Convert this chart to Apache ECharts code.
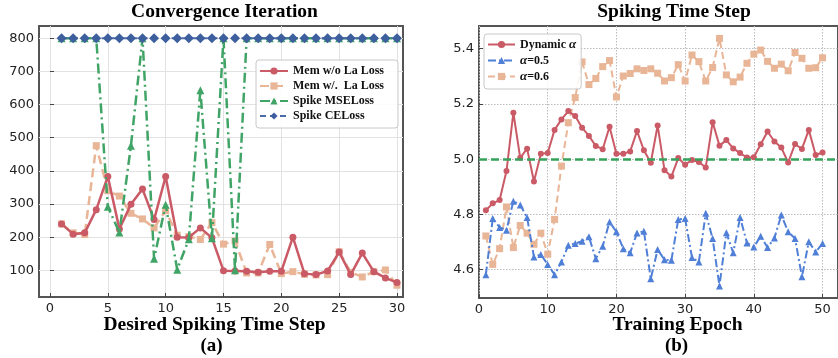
<!DOCTYPE html>
<html><head><meta charset="utf-8">
<script src="https://cdn.jsdelivr.net/npm/echarts@6/dist/echarts.min.js"></script>
<style>html,body{margin:0;padding:0;background:#fff}#c{width:838px;height:358px}</style>
</head><body><div id="c"></div>
<script>
// ---------- Panel (a): Convergence Iteration ----------
const stepsA = [1,2,3,4,5,6,7,8,9,10,11,12,13,14,15,16,17,18,19,20,21,22,23,24,25,26,27,28,29,30];
const memNoLa = [240,209,213,283,383,225,299,345,253,383,200,199,228,198,99,98,97,94,97,97,200,90,87,98,155,87,152,96,77,63];
const memLa   = [240,213,208,476,340,324,272,255,228,280,206,202,193,244,179,189,92,92,178,90,96,88,86,87,156,94,80,96,101,55];
const spikeMse = [800,800,800,800,292,214,476,800,135,298,102,194,643,197,800,100,800,800,800,800,800,800,800,800,800,800,800,800,800,800];
const spikeCe  = [800,800,800,800,800,800,800,800,800,800,800,800,800,800,800,800,800,800,800,800,800,800,800,800,800,800,800,800,800,800];
const xTicksA = [0,5,10,15,20,25,30];
const yTicksA = [100,200,300,400,500,600,700,800];

// ---------- Panel (b): Spiking Time Step ----------
const epochsB = [1,2,3,4,5,6,7,8,9,10,11,12,13,14,15,16,17,18,19,20,21,22,23,24,25,26,27,28,29,30,31,32,33,34,35,36,37,38,39,40,41,42,43,44,45,46,47,48,49,50];
const dynAlpha = [4.815,4.84,4.852,4.957,5.168,5.005,5.038,4.919,5.02,5.022,
                  5.106,5.144,5.174,5.156,5.114,5.084,5.048,5.036,5.117,5.02,
                  5.02,5.028,5.102,5.032,4.987,5.122,4.96,4.937,5.004,4.98,
                  4.997,4.99,4.97,5.134,5.049,5.069,5.039,5.022,5.006,5.007,
                  5.054,5.10,5.064,5.042,4.988,5.055,5.037,5.106,5.015,5.024];
const alpha05 = [4.582,4.785,4.753,4.743,4.848,4.834,4.789,4.646,4.655,4.619,
                 4.582,4.628,4.688,4.695,4.703,4.719,4.64,4.685,4.773,4.737,
                 4.676,4.661,4.733,4.739,4.567,4.673,4.636,4.634,4.782,4.785,
                 4.644,4.628,4.804,4.713,4.541,4.734,4.661,4.789,4.697,4.682,
                 4.721,4.68,4.715,4.798,4.737,4.713,4.574,4.701,4.664,4.695];
const alpha06 = [4.722,4.619,4.676,4.827,4.68,4.76,4.732,4.692,4.732,4.656,
                 4.782,4.975,5.132,5.223,5.352,5.27,5.292,5.335,5.357,5.225,
                 5.301,5.31,5.327,5.321,5.327,5.311,5.283,5.295,5.342,5.283,
                 5.377,5.353,5.283,5.332,5.437,5.305,5.28,5.297,5.347,5.38,
                 5.395,5.354,5.329,5.344,5.32,5.386,5.365,5.329,5.331,5.367];
const baselineB = 5.0;
const xTicksB = [0,10,20,30,40,50];
const yTicksB = [4.6,4.8,5.0,5.2,5.4];

const pairs = (xs, ys) => xs.map((x, i) => [x, ys[i]]);
const SERIF = '"Liberation Serif","Times New Roman",serif';
const SANS = '"DejaVu Sans",sans-serif';

function valueAxis(idx, min, max, ticks, fmt, dotted) {
  return {
    type: 'value', gridIndex: idx, min: min, max: max,
    axisLine: {show: false},
    axisTick: {show: true, inside: true, length: 4, customValues: ticks, lineStyle: {color: '#444', width: 1}},
    axisLabel: {customValues: ticks, formatter: fmt, fontFamily: SANS, fontSize: 13, color: '#222', margin: 5},
    splitLine: {show: true, lineStyle: dotted ? {color: '#bbb', width: 1, type: [1.5, 1.5]} : {color: '#e2e2e2', width: 1}}
  };
}

const chart = echarts.init(document.getElementById('c'), null, {renderer: 'canvas'});
const option = {
  animation: false,
  backgroundColor: '#fff',
  grid: [
    {left: 39, top: 26, width: 364, height: 271, show: true, borderColor: '#555', borderWidth: 2, backgroundColor: 'transparent'},
    {left: 479, top: 26, width: 364, height: 272, show: true, borderColor: '#555', borderWidth: 2, backgroundColor: 'transparent'}
  ],
  xAxis: [
    valueAxis(0, -0.95, 30.52, xTicksA, v => String(v), false),
    valueAxis(1, 0, 52.25, xTicksB, v => String(v), true)
  ],
  yAxis: [
    valueAxis(0, 19.5, 837, yTicksA, v => String(v), false),
    valueAxis(1, 4.4975, 5.482, yTicksB, v => v.toFixed(1), true)
  ],
  legend: [
    {
      data: ['Mem w/o La Loss', 'Mem w/.  La Loss', 'Spike MSELoss', 'Spike CELoss'],
      orient: 'vertical', left: 256, top: 60, itemWidth: 28, itemHeight: 9, itemGap: 3,
      padding: [5, 14, 6, 3], borderColor: '#c8c8c8', borderWidth: 1, borderRadius: 3,
      backgroundColor: 'rgba(255,255,255,0.85)',
      textStyle: {fontFamily: SERIF, fontWeight: 'bold', fontSize: 12, color: '#111'}
    },
    {
      data: ['Dynamic α', 'α=0.5', 'α=0.6'],
      orient: 'vertical', left: 484, top: 34, itemWidth: 27, itemHeight: 9, itemGap: 3,
      padding: [4, 5, 6, 3], borderColor: '#c8c8c8', borderWidth: 1, borderRadius: 3,
      backgroundColor: 'rgba(255,255,255,0.85)',
      formatter: n => n.replace('α', '{i|α}'),
      textStyle: {fontFamily: SERIF, fontWeight: 'bold', fontSize: 12, color: '#111',
        rich: {i: {fontFamily: SERIF, fontStyle: 'italic', fontWeight: 'bold', fontSize: 13, color: '#111'}}}
    }
  ],
  series: [
    {name: 'Mem w/o La Loss', type: 'line', xAxisIndex: 0, yAxisIndex: 0, data: pairs(stepsA, memNoLa),
      symbol: 'circle', symbolSize: 7, lineStyle: {color: '#c95a66', width: 2.5}, itemStyle: {color: '#c95a66'}, z: 3},
    {name: 'Mem w/.  La Loss', type: 'line', xAxisIndex: 0, yAxisIndex: 0, data: pairs(stepsA, memLa),
      symbol: 'rect', symbolSize: 7, lineStyle: {color: '#e9b597', width: 2.5, type: [9, 5]}, itemStyle: {color: '#e9b597'}, z: 2},
    {name: 'Spike MSELoss', type: 'line', xAxisIndex: 0, yAxisIndex: 0, data: pairs(stepsA, spikeMse),
      symbol: 'triangle', symbolSize: 8, lineStyle: {color: '#40a466', width: 2.5, type: [10, 4, 2, 4]}, itemStyle: {color: '#40a466'}, z: 4},
    {name: 'Spike CELoss', type: 'line', xAxisIndex: 0, yAxisIndex: 0, data: pairs(stepsA, spikeCe),
      symbol: 'diamond', symbolSize: 10, lineStyle: {color: '#4a6aa8', width: 2, type: [6, 4]}, itemStyle: {color: '#3d5f9e'}, z: 5},

    {name: 'Dynamic α', type: 'line', xAxisIndex: 1, yAxisIndex: 1, data: pairs(epochsB, dynAlpha),
      symbol: 'circle', symbolSize: 6, lineStyle: {color: '#c95a66', width: 2}, itemStyle: {color: '#c95a66'}, z: 4,
      markLine: {silent: true, symbol: 'none', label: {show: false},
        lineStyle: {color: '#36a35c', width: 2.5, type: [8, 4]}, data: [{yAxis: baselineB}]}},
    {name: 'α=0.5', type: 'line', xAxisIndex: 1, yAxisIndex: 1, data: pairs(epochsB, alpha05),
      symbol: 'triangle', symbolSize: 7, lineStyle: {color: '#4f7fd6', width: 2, type: [8, 3, 2, 3]}, itemStyle: {color: '#4f7fd6'}, z: 3},
    {name: 'α=0.6', type: 'line', xAxisIndex: 1, yAxisIndex: 1, data: pairs(epochsB, alpha06),
      symbol: 'rect', symbolSize: 7, lineStyle: {color: '#e9b597', width: 2, type: [7, 4]}, itemStyle: {color: '#e9b597'}, z: 2}
  ],
  graphic: [
    {type: 'text', x: 224.5, y: 12, style: {text: 'Convergence Iteration', font: 'bold 19.5px ' + SERIF, fill: '#000', align: 'center', verticalAlign: 'middle'}},
    {type: 'text', x: 674, y: 12, style: {text: 'Spiking Time Step', font: 'bold 19.5px ' + SERIF, fill: '#000', align: 'center', verticalAlign: 'middle'}},
    {type: 'text', x: 214.5, y: 325, style: {text: 'Desired Spiking Time Step', font: 'bold 19.5px ' + SERIF, fill: '#000', align: 'center', verticalAlign: 'middle'}},
    {type: 'text', x: 677.5, y: 325, style: {text: 'Training Epoch', font: 'bold 19.5px ' + SERIF, fill: '#000', align: 'center', verticalAlign: 'middle'}},
    {type: 'text', x: 211.5, y: 346, style: {text: '(a)', font: 'bold 19px ' + SERIF, fill: '#000', align: 'center', verticalAlign: 'middle'}},
    {type: 'text', x: 676.5, y: 346, style: {text: '(b)', font: 'bold 19px ' + SERIF, fill: '#000', align: 'center', verticalAlign: 'middle'}}
  ]
};
chart.setOption(option);
</script>
</body></html>
